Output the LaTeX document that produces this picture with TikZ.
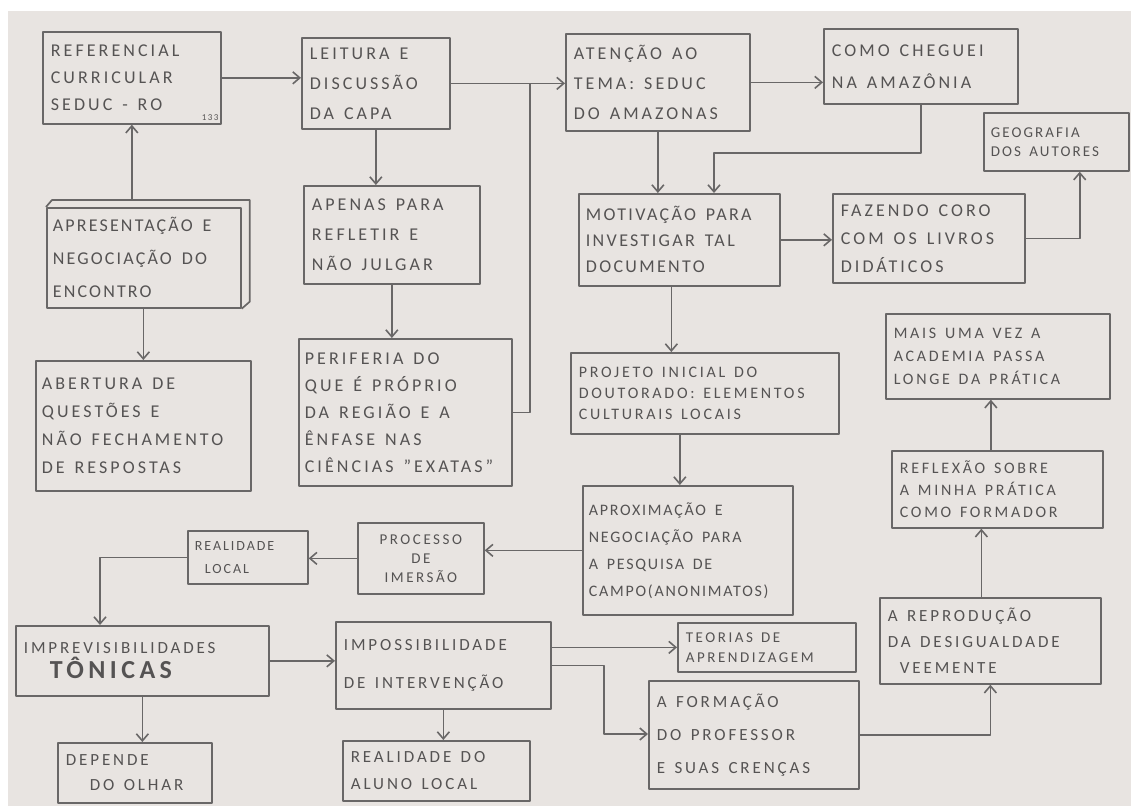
\documentclass[tikz,border=0pt]{standalone}
\usepackage{fontspec}
\setmainfont{Carlito}[LetterSpace=17]
\usetikzlibrary{arrows.meta}
\definecolor{paper}{RGB}{232,228,225}
\definecolor{pencil}{RGB}{105,103,103}
\definecolor{ink}{RGB}{85,83,83}
\newcommand\myfs[2]{\fontsize{#1}{#2}\selectfont}
\tikzset{
  box/.style={draw=pencil, line width=1.7pt, line join=round, anchor=north west, align=left,
    inner xsep=8pt, inner ysep=3pt, text=ink,
    execute at begin node={\spaceskip=0.55em plus 0.1em minus 0.05em\relax}},
  arr/.style={draw=pencil, line width=1.7pt, line join=round,
    -{Straight Barb[length=7pt,width=12pt,line width=1.6pt]}},
  ln/.style={draw=pencil, line width=1.7pt, line join=round},
}
\begin{document}
\begin{tikzpicture}[x=1pt,y=-1pt]
\useasboundingbox (0,0) rectangle (1131,806);
\fill[white] (0,0) rectangle (1131,806);
\fill[paper] (8,11) rectangle (1131,806);

% boxes
\node[box, minimum width=178pt, minimum height=92pt, text width=162pt, font=\myfs{18}{27}] (ref) at (42,31) {REFERENCIAL\\CURRICULAR\\SEDUC - RO};
\node[anchor=south east, text=ink, font=\myfs{9}{10}, inner sep=1pt] (n133) at ([shift={(-2pt,3pt)}]ref.south east) {133};
\node[box, minimum width=148pt, minimum height=91pt, text width=132pt, font=\myfs{18}{30}] (lei) at (301,37) {LEITURA E\\DISCUSSÃO\\DA CAPA};
\node[box, minimum width=184pt, minimum height=97pt, text width=168pt, font=\myfs{18}{30}] (ate) at (565,33) {ATENÇÃO AO\\TEMA: SEDUC\\DO AMAZONAS};
\node[box, minimum width=194pt, minimum height=75pt, text width=178pt, font=\myfs{18}{32}] (com) at (823,28) {COMO CHEGUEI\\NA AMAZÔNIA};
\node[box, minimum width=145pt, minimum height=58pt, text width=131pt, inner xsep=7pt, font=\myfs{15}{19}\addfontfeatures{LetterSpace=14}] (geo) at (983,112) {GEOGRAFIA\\DOS AUTORES};
\node[box, minimum width=194pt, minimum height=100pt, text width=182pt, inner xsep=6pt, font=\myfs{18}{33}\addfontfeatures{LetterSpace=12}] (apr) at (46,207) {APRESENTAÇÃO E\\NEGOCIAÇÃO DO\\ENCONTRO};
\node[box, minimum width=176pt, minimum height=98pt, text width=160pt, font=\myfs{18}{30}] (ape) at (303,185) {APENAS PARA\\REFLETIR E\\NÃO JULGAR};
\node[box, minimum width=201pt, minimum height=92pt, text width=187pt, inner xsep=7pt, font=\myfs{18}{26}\addfontfeatures{LetterSpace=13}] (mot) at (578,193) {MOTIVAÇÃO PARA\\INVESTIGAR TAL\\DOCUMENTO};
\node[box, minimum width=192pt, minimum height=89pt, text width=176pt, font=\myfs{18}{28}] (faz) at (832,193) {FAZENDO CORO\\COM OS LIVROS\\DIDÁTICOS};
\node[box, minimum width=215pt, minimum height=130pt, text width=203pt, inner xsep=6pt, font=\myfs{18}{28}] (abe) at (35,360) {ABERTURA DE\\QUESTÕES E\\NÃO FECHAMENTO\\DE RESPOSTAS};
\node[box, minimum width=213pt, minimum height=147pt, text width=201pt, inner xsep=6pt, font=\myfs{18}{27}] (per) at (298,338) {PERIFERIA DO\\QUE É PRÓPRIO\\DA REGIÃO E A\\ÊNFASE NAS\\CIÊNCIAS \symbol{34}EXATAS\symbol{34}};
\node[box, minimum width=268pt, minimum height=81pt, text width=252pt, font=\myfs{16}{21}] (pro) at (570,352) {PROJETO INICIAL DO\\DOUTORADO: ELEMENTOS\\CULTURAIS LOCAIS};
\node[box, minimum width=224pt, minimum height=85pt, text width=208pt, font=\myfs{16}{23}] (mai) at (885,313) {MAIS UMA VEZ A\\ACADEMIA PASSA\\LONGE DA PRÁTICA};
\node[box, minimum width=211pt, minimum height=77pt, text width=195pt, font=\myfs{16}{22}] (refl) at (891,450) {REFLEXÃO SOBRE\\A MINHA PRÁTICA\\COMO FORMADOR};
\node[box, minimum width=210pt, minimum height=129pt, text width=198pt, inner xsep=6pt, font=\myfs{16}{27}\addfontfeatures{LetterSpace=11}] (apx) at (582,485) {APROXIMAÇÃO E\\NEGOCIAÇÃO PARA\\A PESQUISA DE\\CAMPO(ANONIMATOS)};
\node[box, minimum width=126pt, minimum height=71pt, text width=110pt, align=center, font=\myfs{15}{19}] (proc) at (357,522) {PROCESSO\\DE\\IMERSÃO};
\node[box, minimum width=120pt, minimum height=53pt, text width=106pt, inner xsep=7pt, font=\myfs{14}{23}\addfontfeatures{LetterSpace=14}] (rloc) at (187,530) {REALIDADE\\\hspace*{10pt}LOCAL};
\node[box, minimum width=253pt, minimum height=70pt, text width=237pt, font=\myfs{17}{28}] (imp) at (15,625) {IMPREVISIBILIDADES\\[-3pt]\hspace*{26pt}\myfs{26}{30}\bfseries TÔNICAS};
\node[box, minimum width=215pt, minimum height=87pt, text width=199pt, font=\myfs{17}{38}] (ims) at (335,621) {IMPOSSIBILIDADE\\DE INTERVENÇÃO};
\node[box, minimum width=178pt, minimum height=49pt, text width=162pt, font=\myfs{15}{20}] (teo) at (677,622) {TEORIAS DE\\APRENDIZAGEM};
\node[box, minimum width=221pt, minimum height=86pt, text width=205pt, font=\myfs{17}{26}] (rep) at (879,597) {A REPRODUÇÃO\\DA DESIGUALDADE\\\hspace*{12pt}VEEMENTE};
\node[box, minimum width=210pt, minimum height=108pt, text width=194pt, font=\myfs{17}{33}] (for) at (648,680) {A FORMAÇÃO\\DO PROFESSOR\\E SUAS CRENÇAS};
\node[box, minimum width=154pt, minimum height=60pt, text width=138pt, font=\myfs{17}{25}] (dep) at (57,742) {DEPENDE\\\hspace*{24pt}DO OLHAR};
\node[box, minimum width=187pt, minimum height=60pt, text width=171pt, font=\myfs{17}{27}] (ral) at (342,740) {REALIDADE DO\\ALUNO LOCAL};

% 3D edge of the Apresentacao box
\draw[ln] (apr.north west) -- ([shift={(6pt,7pt)}]apr.north west) -- ([shift={(8pt,7pt)}]apr.north east) -- ([shift={(8pt,7pt)}]apr.south east) -- (apr.south east);

% helper coordinates
\coordinate (aprtop) at ([yshift=7pt]apr.north);
\coordinate (j) at (530,82.5);
\coordinate (c1) at (714,153);
\coordinate (a12) at ([xshift=-50pt]geo.south east);
\coordinate (a13) at ([xshift=-8pt]mot.south);
\coordinate (a14) at ([xshift=-8pt]apx.north);
\coordinate (a17) at ([xshift=85pt]imp.north west);
\coordinate (c2) at (604,734);
\coordinate (a24) at ([xshift=-9pt]rep.north);
\coordinate (a25) at ([xshift=-7pt]mai.south);

% connectors
\draw[arr] (aprtop -| ref.south) -- (ref.south);
\draw[arr] (apr.south -| abe.north) -- (abe.north);
\draw[arr] (ref.east) -- (ref.east -| lei.west);
\draw[arr] (lei.east) -- (lei.east -| ate.west);
\draw[ln] (per.east) -| (j);
\draw[arr] (lei.south) -- (lei.south |- ape.north);
\draw[arr] (ape.south) -- (ape.south |- per.north);
\draw[arr] (ate.east) -- (ate.east -| com.west);
\draw[arr] (ate.south) -- (ate.south |- mot.north);
\draw[arr] (com.south) |- (c1) -- (c1 |- mot.north);
\draw[arr] (mot.east) -- (mot.east -| faz.west);
\draw[arr] (faz.east) -| (a12);
\draw[arr] (a13) -- (a13 |- pro.north);
\draw[arr] (a14 |- pro.south) -- (a14);
\draw[arr] (apx.west) -- (apx.west -| proc.east);
\draw[arr] (proc.west) -- (proc.west -| rloc.east);
\draw[arr] (rloc.west) -| (a17);
\draw[arr] (imp.east) -- (imp.east -| ims.west);
\draw[arr] (imp.south) -- (imp.south |- dep.north);
\draw[arr] (ims.south) -- (ims.south |- ral.north);
\draw[arr] (ims.east |- teo.west) -- (teo.west);
\draw[arr] (ims.east) -| (c2) -- (c2 -| for.west);
\draw[arr] (for.east) -| (rep.south);
\draw[arr] (a24) -- (a24 |- refl.south);
\draw[arr] (a25 |- refl.north) -- (a25);
\end{tikzpicture}
\end{document}
